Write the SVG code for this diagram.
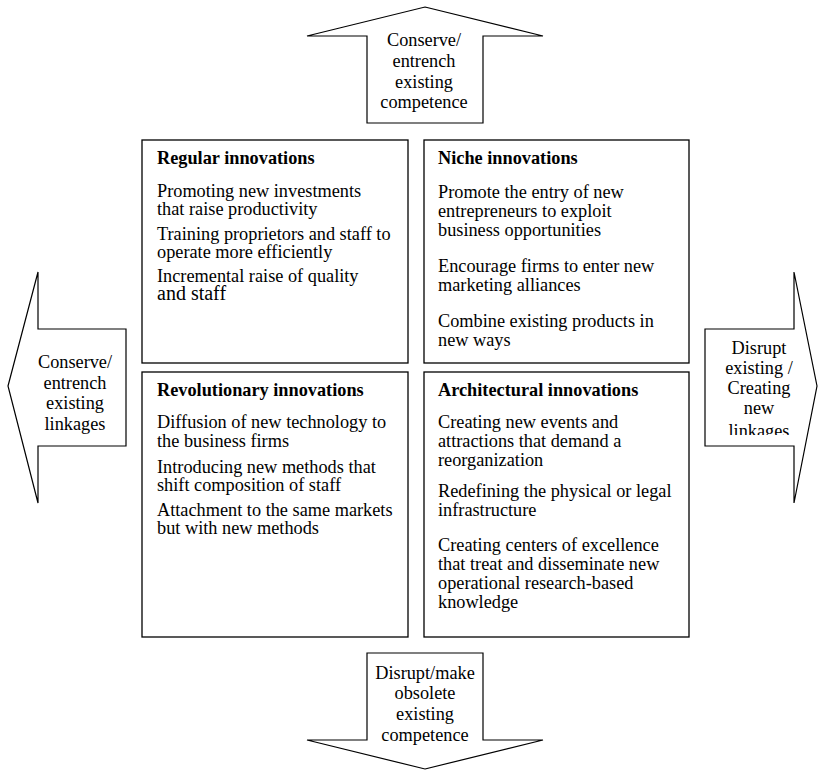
<svg xmlns="http://www.w3.org/2000/svg" width="818" height="770" viewBox="0 0 818 770">
<style>
.shape{fill:#fff;stroke:#000;stroke-width:1.2}
.box{fill:#fff;stroke:#000;stroke-width:1.3}
text{font-family:"Liberation Serif","Times New Roman",serif;font-size:18.3px;fill:#000}
.h{font-weight:bold}
.c{text-anchor:middle}
</style>
<defs>
<clipPath id="rclip"><rect x="706" y="330" width="88" height="105"/></clipPath>
</defs>
<rect width="818" height="770" fill="#fff"/>
<g id="connectors">
<g id="arrow-top">
<polygon class="shape" points="425,7 543,36 483,36 483,123 367,123 367,36 307,36"/>
<text class="c" x="424" y="46">Conserve/</text>
<text class="c" x="424" y="67">entrench</text>
<text class="c" x="424" y="88">existing</text>
<text class="c" x="424" y="108">competence</text>
</g>
<g id="arrow-left">
<polygon class="shape" points="8,386 38,272 38,329 126,329 126,446 38,446 38,503"/>
<text class="c" x="75" y="368">Conserve/</text>
<text class="c" x="75" y="389">entrench</text>
<text class="c" x="75" y="409">existing</text>
<text class="c" x="75" y="430">linkages</text>
</g>
<g id="arrow-right">
<polygon class="shape" points="817,386 794,272 794,329 705,329 705,446 794,446 794,503"/>
<g clip-path="url(#rclip)">
<text class="c" x="759" y="354">Disrupt</text>
<text class="c" x="759" y="374">existing /</text>
<text class="c" x="759" y="394">Creating</text>
<text class="c" x="759" y="414">new</text>
<text class="c" x="759" y="437">linkages</text>
</g>
</g>
<g id="arrow-bottom">
<polygon class="shape" points="425,769 543,740 483,740 483,653 367,653 367,740 307,740"/>
<text class="c" x="425" y="679">Disrupt/make</text>
<text class="c" x="425" y="699">obsolete</text>
<text class="c" x="425" y="720">existing</text>
<text class="c" x="425" y="741">competence</text>
</g>
</g>
<g id="regular">
<rect class="box" x="142" y="140" width="266" height="223"/>
<text class="h" x="157" y="164">Regular innovations</text>
<text x="157" y="197">Promoting new investments</text>
<text x="157" y="215">that raise productivity</text>
<text x="157" y="240">Training proprietors and staff to</text>
<text x="157" y="258">operate more efficiently</text>
<text x="157" y="282">Incremental raise of quality</text>
<text x="157" y="300" style="font-size:20px">and staff</text>
</g>
<g id="niche">
<rect class="box" x="424" y="140" width="265" height="223"/>
<text class="h" x="438" y="164">Niche innovations</text>
<text x="438" y="198">Promote the entry of new</text>
<text x="438" y="217">entrepreneurs to exploit</text>
<text x="438" y="236">business opportunities</text>
<text x="438" y="272">Encourage firms to enter new</text>
<text x="438" y="291">marketing alliances</text>
<text x="438" y="327">Combine existing products in</text>
<text x="438" y="346">new ways</text>
</g>
<g id="revolutionary">
<rect class="box" x="142" y="372" width="266" height="265"/>
<text class="h" x="157" y="396">Revolutionary innovations</text>
<text x="157" y="428">Diffusion of new technology to</text>
<text x="157" y="447">the business firms</text>
<text x="157" y="473">Introducing new methods that</text>
<text x="157" y="491">shift composition of staff</text>
<text x="157" y="516">Attachment to the same markets</text>
<text x="157" y="534">but with new methods</text>
</g>
<g id="architectural">
<rect class="box" x="424" y="372" width="265" height="265"/>
<text class="h" x="438" y="396">Architectural innovations</text>
<text x="438" y="428">Creating new events and</text>
<text x="438" y="447">attractions that demand a</text>
<text x="438" y="466">reorganization</text>
<text x="438" y="497">Redefining the physical or legal</text>
<text x="438" y="516">infrastructure</text>
<text x="438" y="551">Creating centers of excellence</text>
<text x="438" y="570">that treat and disseminate new</text>
<text x="438" y="589">operational research-based</text>
<text x="438" y="608">knowledge</text>
</g>
</svg>
